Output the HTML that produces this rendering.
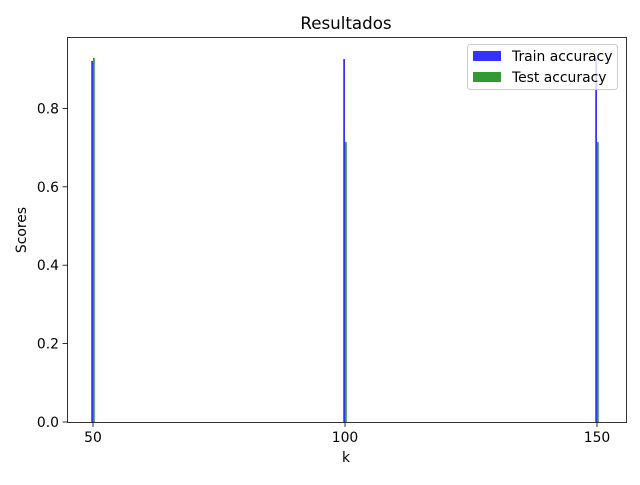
<!DOCTYPE html>
<html><head><meta charset="utf-8"><style>
body{margin:0;background:#fff;}
svg text{font-family:"DejaVu Sans","Liberation Sans",sans-serif;}
</style></head><body>
<svg width="640" height="480" xmlns="http://www.w3.org/2000/svg">
<rect width="640" height="480" fill="#fff"/>
<g id="bars"></g>
<g id="axes"></g>
<text x="346" y="29" font-size="16.7" text-anchor="middle" fill="#000">Resultados</text>
<text x="346" y="462" font-size="13.9" text-anchor="middle">k</text>
<text x="26" y="230" font-size="13.9" text-anchor="middle" transform="rotate(-90 26 230)">Scores</text>
<g>
<rect x="467.5" y="44.5" width="150" height="45" rx="3" fill="#fff" fill-opacity="0.8" stroke="#ccc"/>
<rect x="473" y="51" width="28" height="10" fill="#3333ff"/>
<text x="512" y="61" font-size="13.9">Train accuracy</text>
<rect x="473" y="72" width="28" height="10" fill="#339933"/>
<text x="512" y="82" font-size="13.9">Test accuracy</text>
</g>
</svg>
<script>
const categories=[50,100,150];
const trainValues=[0.921,0.926,0.929];
const testValues=[0.929,0.714,0.714];
const xTicks=[50,100,150];
const yTicks=[0.0,0.2,0.4,0.6,0.8];
const barW=0.35;
const L=67,R=626,T=37,B=422;
function sx(v){return 93+(v-50)*5.04;}
function sy(v){return B-v/0.2*78.4;}
const NS="http://www.w3.org/2000/svg";
const bars=document.getElementById('bars');
const axes=document.getElementById('axes');
function mk(tag,attrs,parent){const e=document.createElementNS(NS,tag);for(const k in attrs)e.setAttribute(k,attrs[k]);parent.appendChild(e);return e;}
categories.forEach((c,i)=>{
  let b=mk('rect',{x:sx(c-barW),y:sy(trainValues[i]),width:sx(c)-sx(c-barW),height:B-sy(trainValues[i]),fill:'#3333ff'},bars);
  
  
  let g=mk('rect',{x:sx(c),y:sy(testValues[i]),width:sx(c+barW)-sx(c),height:B-sy(testValues[i]),fill:'#339933'},bars);
  
  
});
let fr=mk('rect',{x:L+0.5,y:T+0.5,width:R-L,height:B-T,fill:'none',stroke:'#000','stroke-width':0.8},axes);


xTicks.forEach(t=>{
  const x=sx(t);
  mk('line',{x1:x,x2:x,y1:B+0.5,y2:B+5,stroke:'#000','stroke-width':0.8},axes);
  let tx=mk('text',{x:x,y:B+20,'font-size':13.9,'text-anchor':'middle'},axes);
  tx.textContent=t;
  
  
});
yTicks.forEach(t=>{
  const y=sy(t);
  mk('line',{x1:L-4.5,x2:L+0.5,y1:y,y2:y,stroke:'#000','stroke-width':0.8},axes);
  let tx=mk('text',{x:L-8,y:y+5,'font-size':13.9,'text-anchor':'end'},axes);
  tx.textContent=t.toFixed(1);
  
  
});
</script>
</body></html>
